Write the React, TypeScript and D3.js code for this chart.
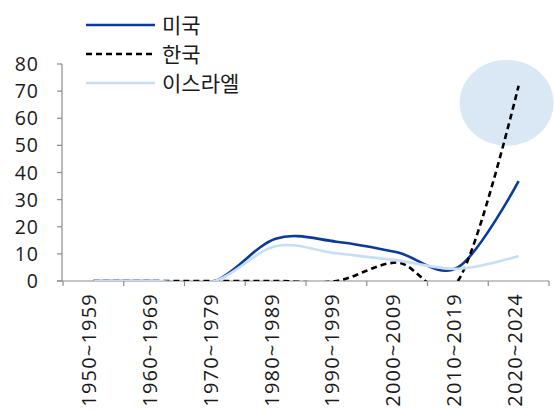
import React from "react";
import * as d3 from "d3";

const categories = ["1950~1959", "1960~1969", "1970~1979", "1980~1989", "1990~1999", "2000~2009", "2010~2019", "2020~2024"];
const usValues = [0, 0, 0, 15.6, 14.5, 10.6, 5.0, 36.8];
const krValues = [0, 0, 0, 0, 0, 6.8, 0, 72];
const ilValues = [0, 0, 0, 12.8, 10.2, 7.6, 4.5, 9.2];
const yTicks = [0, 10, 20, 30, 40, 50, 60, 70, 80];
const seriesNames = ["미국", "한국", "이스라엘"];

const W = 554, H = 412;
const left = 63, right = 549, top = 64, bottom = 281;
const font = "'Open Sans', 'Noto Sans CJK KR', sans-serif";

export default function App() {
  const x = d3.scaleBand<string>().domain(categories).range([left, right]);
  const y = d3.scaleLinear().domain([0, 80]).range([bottom, top]);
  const cx = (c: string) => (x(c) as number) + x.bandwidth() / 2;
  const line = d3
    .line<number>()
    .x((_, i) => cx(categories[i]))
    .y((v) => y(v))
    .curve(d3.curveCardinal.tension(0));

  const series = [
    { name: seriesNames[0], values: usValues, color: "#0a3a9c", dash: "" },
    { name: seriesNames[1], values: krValues, color: "#000000", dash: "6,4" },
    { name: seriesNames[2], values: ilValues, color: "#c6def7", dash: "" },
  ];

  const last = categories[categories.length - 1];

  return (
    <svg width={W} height={H} style={{ position: "absolute", left: 0, top: 0, fontFamily: font }}>
      <defs>
        <clipPath id="plot">
          <rect x={left} y={0} width={W - left} height={bottom} />
        </clipPath>
      </defs>
      {/* highlight ellipse */}
      <ellipse cx={cx(last) - 12} cy={y(65.7)} rx={47} ry={43} fill="#dae8f5" />
      {/* axes */}
      <line x1={left - 1} x2={left - 1} y1={top} y2={bottom} stroke="#8c8c8c" strokeWidth={1.2} />
      <line x1={left - 6} x2={right} y1={bottom} y2={bottom} stroke="#8c8c8c" strokeWidth={1.2} />
      {yTicks.map((t) => (
        <g key={t}>
          <line x1={left - 6} x2={left - 1} y1={y(t)} y2={y(t)} stroke="#8c8c8c" strokeWidth={1.2} />
          <text x={39} y={y(t)} dy="0.36em" textAnchor="end" fontSize={19.5} letterSpacing={1} fill="#1a1a1a">
            {t}
          </text>
        </g>
      ))}
      {categories.map((c, i) => (
        <line key={"xt" + i} x1={x(c) as number} x2={x(c) as number} y1={bottom} y2={bottom + 5} stroke="#8c8c8c" strokeWidth={1.2} />
      ))}
      <line x1={right} x2={right} y1={bottom} y2={bottom + 5} stroke="#8c8c8c" strokeWidth={1.2} />
      {categories.map((c) => (
        <text
          key={c}
          transform={`translate(${cx(c) + 3},293) rotate(-90)`}
          textAnchor="end"
          fontSize={20}
          letterSpacing={1.2}
          fill="#1a1a1a"
        >
          {c}
        </text>
      ))}
      {/* lines */}
      <g clipPath="url(#plot)">
        {series.map((s) => (
          <path
            key={s.name}
            d={line(s.values) as string}
            fill="none"
            stroke={s.color}
            strokeWidth={2.6}
            strokeDasharray={s.dash || undefined}
          />
        ))}
      </g>
      {/* legend */}
      {series.map((s, i) => (
        <g key={"lg" + i} transform={`translate(0,${25 + i * 29})`}>
          <line x1={86} x2={155} y1={0} y2={0} stroke={s.color} strokeWidth={2.6} strokeDasharray={s.dash || undefined} />
          <text x={162} y={0} dy="0.36em" fontSize={21} fill="#1a1a1a" fontFamily="'Noto Sans CJK KR', sans-serif">
            {s.name}
          </text>
        </g>
      ))}
    </svg>
  );
}
